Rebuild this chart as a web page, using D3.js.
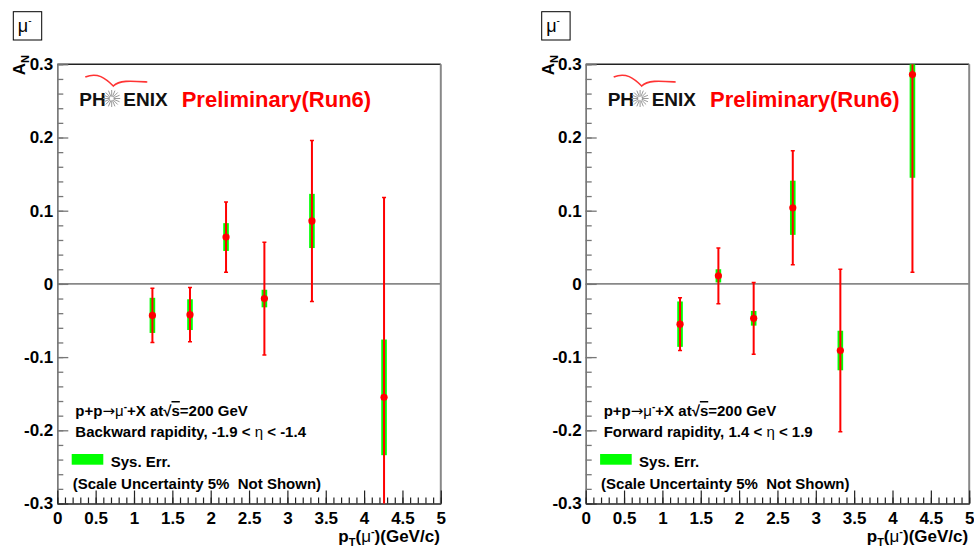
<!DOCTYPE html>
<html>
<head>
<meta charset="utf-8">
<script src="https://cdn.jsdelivr.net/npm/d3@7"></script>
<style>
  body { margin: 0; background: #fff; }
  text { font-family: "Liberation Sans", Arial, Helvetica, sans-serif; }
</style>
</head>
<body>
<div id="chart"></div>
<script>
// tick labels
const yTicks = [-0.3, -0.2, -0.1, 0, 0.1, 0.2, 0.3];
const xTicks = [0, 0.5, 1, 1.5, 2, 2.5, 3, 3.5, 4, 4.5, 5];

// backward rapidity (left panel)
const ptBackward   = [1.24, 1.73, 2.20, 2.70, 3.32, 4.26];
const anBackward   = [-0.043, -0.042, 0.064, -0.020, 0.086, -0.155];
const statBackward = [0.037, 0.037, 0.048, 0.077, 0.110, 0.273];
const sysBackward  = [0.024, 0.021, 0.019, 0.012, 0.037, 0.079];

// forward rapidity (right panel)
const ptForward   = [1.23, 1.73, 2.19, 2.70, 3.32, 4.26];
const anForward   = [-0.055, 0.011, -0.047, 0.104, -0.091, 0.286];
const statForward = [0.036, 0.038, 0.049, 0.078, 0.111, 0.270];
const sysForward  = [0.031, 0.009, 0.010, 0.037, 0.027, 0.141];

const W = 974, H = 548;
const svg = d3.select("#chart").append("svg")
    .attr("width", W).attr("height", H)
    .style("background", "#fff");

function drawPanel(left, pts, an, stat, sys, rapText, id) {
    const x0 = left, x1 = left + 383.5, y0 = 64.3, y1 = 503.5;
    const x = d3.scaleLinear().domain([0, 5]).range([x0, x1]);
    const y = d3.scaleLinear().domain([-0.3, 0.3]).range([y1, y0]);

    // particle box
    const bx = left - 44;
    svg.append("rect").attr("x", bx).attr("y", 11.7).attr("width", 28.4).attr("height", 28.3)
        .attr("fill", "#fff").attr("stroke", "#000").attr("stroke-width", 1);
    const mu = svg.append("text").attr("x", bx + 4.5).attr("y", 32).style("font-size", "18px");
    mu.append("tspan").text("\u03bc");
    mu.append("tspan").attr("dy", -8).style("font-size", "10px").text("-");

    // frame top and right
    svg.append("line").attr("x1", x0).attr("x2", x1).attr("y1", y0).attr("y2", y0)
        .attr("stroke", "#222").attr("stroke-width", 1.5);
    svg.append("line").attr("x1", x1).attr("x2", x1).attr("y1", y0).attr("y2", y1)
        .attr("stroke", "#888").attr("stroke-width", 2);

    // zero line
    svg.append("line").attr("x1", x0).attr("x2", x1).attr("y1", y(0)).attr("y2", y(0))
        .attr("stroke", "#888").attr("stroke-width", 1.8);

    const fmtY = d => d === 0 ? "0" : d.toFixed(1);
    // y axis minor + major
    svg.append("g").attr("transform", "translate(" + x0 + ",0)")
        .call(d3.axisLeft(y).tickValues(d3.range(-0.3, 0.301, 0.02)).tickSizeInner(-6).tickSizeOuter(0).tickFormat(""))
        .call(g => g.selectAll("line,path").attr("stroke", "#777").attr("stroke-width", 1.3));
    svg.append("g").attr("transform", "translate(" + x0 + ",0)")
        .call(d3.axisLeft(y).tickValues(yTicks).tickSizeInner(-11).tickSizeOuter(0).tickPadding(4).tickFormat(fmtY))
        .call(g => g.selectAll("line,path").attr("stroke", "#777").attr("stroke-width", 1.3))
        .call(g => g.selectAll("text").attr("fill", "#000").style("font-size", "17px").style("font-weight", "bold")
            .style("font-family", "'Liberation Sans', Arial, sans-serif"));

    // x axis minor + major
    svg.append("g").attr("transform", "translate(0," + y1 + ")")
        .call(d3.axisBottom(x).tickValues(d3.range(0, 5.001, 0.1)).tickSizeInner(-6).tickSizeOuter(0).tickFormat(""))
        .call(g => g.selectAll("line,path").attr("stroke", "#222").attr("stroke-width", 1.2));
    svg.append("g").attr("transform", "translate(0," + y1 + ")")
        .call(d3.axisBottom(x).tickValues(xTicks).tickSizeInner(-13).tickSizeOuter(0).tickPadding(8.5).tickFormat(d => String(d)))
        .call(g => g.selectAll("line,path").attr("stroke", "#222").attr("stroke-width", 1.2))
        .call(g => g.selectAll("text").attr("fill", "#000").style("font-size", "17px").style("font-weight", "bold")
            .style("font-family", "'Liberation Sans', Arial, sans-serif"));

    // axis titles
    const xt = svg.append("text").attr("x", x1 - 1).attr("y", 541.5).attr("text-anchor", "end")
        .style("font-size", "17px").style("font-weight", "bold");
    xt.append("tspan").text("p");
    xt.append("tspan").attr("dy", 4).style("font-size", "11px").text("T");
    xt.append("tspan").attr("dy", -4).text("(");
    xt.append("tspan").style("font-weight", "normal").text("\u03bc");
    xt.append("tspan").attr("dy", -7).style("font-size", "11px").text("-");
    xt.append("tspan").attr("dy", 7).text(")(GeV/c)");

    const yt = svg.append("text").attr("transform", "translate(" + (left - 32) + ",55) rotate(-90)")
        .attr("text-anchor", "end").style("font-size", "17px").style("font-weight", "bold");
    yt.append("tspan").text("A");
    yt.append("tspan").attr("dy", 4).style("font-size", "11px").text("N");

    // PHENIX logo
    const lx = x0 + 22, ly = 105.7;
    svg.append("path")
        .attr("d", "M" + (x0 + 28) + ",77 C" + (x0 + 40) + ",72 " + (x0 + 48) + ",78 " + (x0 + 56) + ",86 C" +
            (x0 + 62) + ",80 " + (x0 + 74) + ",81 " + (x0 + 90) + ",82")
        .attr("fill", "none").attr("stroke", "#f33").attr("stroke-width", 1.6);
    svg.append("text").attr("x", lx).attr("y", ly).style("font-size", "19px").style("font-weight", "bold")
        .attr("fill", "#111").text("PH");
    svg.append("text").attr("x", x0 + 66).attr("y", ly).style("font-size", "19px").style("font-weight", "bold")
        .attr("fill", "#111").text("ENIX");
    const sc = { x: x0 + 54.4, y: 98.5 };
    svg.append("g").selectAll("line").data(d3.range(16)).enter().append("line")
        .attr("x1", d => sc.x + 2 * Math.cos(d * Math.PI / 8))
        .attr("y1", d => sc.y + 2 * Math.sin(d * Math.PI / 8))
        .attr("x2", d => sc.x + 8.5 * Math.cos(d * Math.PI / 8))
        .attr("y2", d => sc.y + 8.5 * Math.sin(d * Math.PI / 8))
        .attr("stroke", "#999").attr("stroke-width", 1);
    svg.append("text").attr("x", x0 + 124.4).attr("y", 106.7).style("font-size", "22px").style("font-weight", "bold")
        .attr("fill", "#f00").text("Preliminary(Run6)");

    // legend texts
    const tx = x0 + 18;
    const t1 = svg.append("text").attr("x", tx).attr("y", 416).style("font-size", "15px").style("font-weight", "bold");
    t1.append("tspan").text("p+p");
    t1.append("tspan").style("font-family", "'DejaVu Sans', sans-serif").style("font-weight", "normal").text("\u2192");
    t1.append("tspan").style("font-weight", "normal").text("\u03bc");
    t1.append("tspan").attr("dy", -6).style("font-size", "10px").text("-");
    t1.append("tspan").attr("dy", 6).text("+X at\u221a");
    t1.append("tspan").style("text-decoration", "overline").text("s");
    t1.append("tspan").text("=200 GeV");

    const t2 = svg.append("text").attr("x", tx).attr("y", 437.3).style("font-size", "15px").style("font-weight", "bold");
    t2.append("tspan").text(rapText[0]);
    t2.append("tspan").style("font-weight", "normal").text("\u03b7");
    t2.append("tspan").text(rapText[1]);

    svg.append("rect").attr("x", x0 + 14.4).attr("y", 454).attr("width", 31.6).attr("height", 10.7).attr("fill", "#00ff00");
    svg.append("text").attr("x", x0 + 53.4).attr("y", 466.7).style("font-size", "15px").style("font-weight", "bold")
        .text("Sys. Err.");
    svg.append("text").attr("x", x0 + 15.4).attr("y", 489.3).style("font-size", "15px").style("font-weight", "bold")
        .style("white-space", "pre").text("(Scale Uncertainty 5%  Not Shown)");

    // data
    svg.append("clipPath").attr("id", id).append("rect")
        .attr("x", x0).attr("y", y0).attr("width", x1 - x0).attr("height", y1 - y0);
    const data = pts.map((p, i) => ({ p: p, a: an[i], st: stat[i], sy: sys[i] }));
    const gd = svg.append("g").attr("clip-path", "url(#" + id + ")");

    gd.selectAll("rect.sys").data(data).enter().append("rect").attr("class", "sys")
        .attr("x", d => x(d.p) - 2.8).attr("width", 5.6)
        .attr("y", d => y(d.a + d.sy)).attr("height", d => y(d.a - d.sy) - y(d.a + d.sy))
        .attr("fill", "#00ff00");
    gd.selectAll("line.stat").data(data).enter().append("line").attr("class", "stat")
        .attr("x1", d => x(d.p)).attr("x2", d => x(d.p))
        .attr("y1", d => y(d.a + d.st)).attr("y2", d => y(d.a - d.st))
        .attr("stroke", "#f00").attr("stroke-width", 2);
    ["top", "bot"].forEach(k => {
        gd.selectAll("line.cap" + k).data(data).enter().append("line").attr("class", "cap" + k)
            .attr("x1", d => x(d.p) - 2).attr("x2", d => x(d.p) + 2)
            .attr("y1", d => y(k === "top" ? d.a + d.st : d.a - d.st))
            .attr("y2", d => y(k === "top" ? d.a + d.st : d.a - d.st))
            .attr("stroke", "#f00").attr("stroke-width", 1.5);
    });
    gd.selectAll("circle").data(data).enter().append("circle")
        .attr("cx", d => x(d.p)).attr("cy", d => y(d.a)).attr("r", 3.6).attr("fill", "#f00");
}

drawPanel(57.3, ptBackward, anBackward, statBackward, sysBackward,
    ["Backward rapidity, -1.9 < ", " < -1.4"], "clipL");
drawPanel(585.7, ptForward, anForward, statForward, sysForward,
    ["Forward rapidity, 1.4 < ", " < 1.9"], "clipR");
</script>
</body>
</html>
